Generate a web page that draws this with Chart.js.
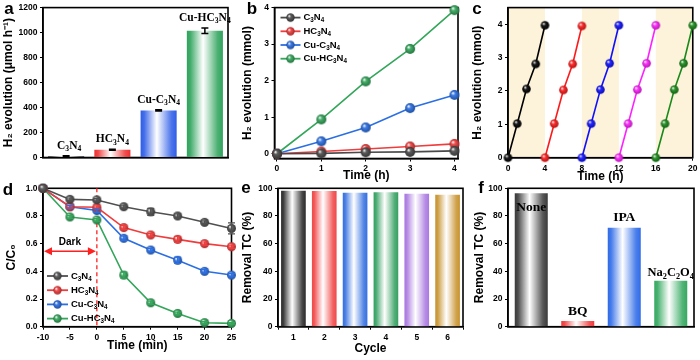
<!DOCTYPE html>
<html><head><meta charset="utf-8">
<script src="https://cdn.jsdelivr.net/npm/chart.js@4/dist/chart.umd.min.js"></script>
<style>
html,body{margin:0;padding:0;background:#fff;}
#wrap{position:relative;width:700px;height:360px;overflow:hidden;background:#fff;}
canvas{position:absolute;left:0;top:0;}
</style></head><body>
<div id="wrap">
<canvas id="ca" width="700" height="360"></canvas>
<canvas id="cb" width="700" height="360"></canvas>
<canvas id="cc" width="700" height="360"></canvas>
<canvas id="cd" width="700" height="360"></canvas>
<canvas id="ce" width="700" height="360"></canvas>
<canvas id="cf" width="700" height="360"></canvas>
</div>
<script>
// ---------------- data ----------------
const aCategories = ['C_3N_4', 'HC_3N_4', 'Cu-C_3N_4', 'Cu-HC_3N_4'];
const aRates = [12, 62, 377, 1015];
const aErrors = [3, 4, 5, 22];
const aTicksY = [0, 200, 400, 600, 800, 1000, 1200];

const bSeriesNames = ['C_3N_4', 'HC_3N_4', 'Cu-C_3N_4', 'Cu-HC_3N_4'];
const bTime = [0, 1, 2, 3, 4];
const bC3N4 = [0, 0.01, 0.04, 0.05, 0.08];
const bHC3N4 = [0, 0.06, 0.13, 0.20, 0.27];
const bCuC3N4 = [0, 0.34, 0.72, 1.25, 1.61];
const bCuHC3N4 = [0, 0.94, 1.98, 2.87, 3.93];
const bTicksX = [0, 1, 2, 3, 4];
const bTicksY = [0, 1, 2, 3, 4];

const cCycle1Time = [0, 1, 2, 3, 4];
const cCycle1 = [0, 1.02, 2.06, 2.81, 3.97];
const cCycle2Time = [4, 5, 6, 7, 8];
const cCycle2 = [0, 1.02, 2.03, 2.81, 3.95];
const cCycle3Time = [8, 9, 10, 11, 12];
const cCycle3 = [0, 1.02, 2.04, 2.83, 3.97];
const cCycle4Time = [12, 13, 14, 15, 16];
const cCycle4 = [0, 1.02, 2.04, 2.83, 3.97];
const cCycle5Time = [16, 17, 18, 19, 20];
const cCycle5 = [0, 1.02, 2.04, 2.83, 3.97];
const cLightPeriods = [[0, 4], [8, 12], [16, 20]];
const cTicksX = [0, 4, 8, 12, 16, 20];
const cTicksY = [0, 1, 2, 3, 4];

const dSeriesNames = ['C_3N_4', 'HC_3N_4', 'Cu-C_3N_4', 'Cu-HC_3N_4'];
const dTime = [-10, -5, 0, 5, 10, 15, 20, 25];
const dC3N4 = [1.0, 0.92, 0.916, 0.867, 0.83, 0.80, 0.754, 0.71];
const dC3N4Err = [0, 0.01, 0.01, 0.012, 0.025, 0.015, 0.01, 0.04];
const dHC3N4 = [1.0, 0.867, 0.863, 0.716, 0.663, 0.631, 0.60, 0.578];
const dHC3N4Err = [0, 0.01, 0.01, 0.015, 0.012, 0.022, 0.012, 0.012];
const dCuC3N4 = [1.0, 0.867, 0.84, 0.639, 0.554, 0.48, 0.40, 0.373];
const dCuC3N4Err = [0, 0.01, 0.012, 0.015, 0.012, 0.022, 0.012, 0.012];
const dCuHC3N4 = [1.0, 0.793, 0.771, 0.373, 0.173, 0.096, 0.029, 0.024];
const dCuHC3N4Err = [0, 0.01, 0.01, 0.022, 0.012, 0.01, 0.008, 0.006];
const dDarkLevel = 0.545;
const dTicksX = [-10, -5, 0, 5, 10, 15, 20, 25];
const dTicksY = [0, 0.2, 0.4, 0.6, 0.8, 1.0];

const eCycles = ['1', '2', '3', '4', '5', '6'];
const eRemoval = [98.3, 98.0, 96.8, 97.1, 96.1, 95.4];
const eTicksY = [0, 20, 40, 60, 80, 100];

const fScavengers = ['None', 'BQ', 'IPA', 'Na_2C_2O_4'];
const fRemoval = [96.4, 4.1, 71.5, 33.2];
const fTicksY = [0, 20, 40, 60, 80, 100];

// ---------------- helpers ----------------
const SANS = '"Liberation Sans", Arial, Helvetica, sans-serif';
const SERIF = '"Liberation Serif", "Times New Roman", serif';
const TICKFONT = {family: SANS, size: 8.5, weight: 'bold'};
const TITLEFONT = {family: SANS, size: 12, weight: 'bold'};

function hexRgb(h) { h = h.replace('#', ''); return [parseInt(h.substr(0,2),16), parseInt(h.substr(2,2),16), parseInt(h.substr(4,2),16)]; }
function mix(h, f) { // f>0 toward white, f<0 toward black
  const c = hexRgb(h).map(v => f >= 0 ? Math.round(v + (255 - v) * f) : Math.round(v * (1 + f)));
  return `rgb(${c[0]},${c[1]},${c[2]})`;
}
function richParts(s) {
  const parts = [];
  for (let i = 0; i < s.length; i++) {
    const ch = s[i];
    if ((ch === '_' || ch === '^') && i + 1 < s.length) { parts.push({t: s[i + 1], k: ch}); i++; }
    else if (parts.length && parts[parts.length - 1].k === 'n') parts[parts.length - 1].t += ch;
    else parts.push({t: ch, k: 'n'});
  }
  return parts;
}
function drawRich(ctx, s, x, y, size, family, weight, color, align) {
  const parts = richParts(s); const ss = size * 0.66;
  ctx.save(); ctx.fillStyle = color; ctx.textBaseline = 'middle'; ctx.textAlign = 'left';
  let total = 0;
  const ws = parts.map(p => { ctx.font = `${weight} ${p.k === 'n' ? size : ss}px ${family}`; const w = ctx.measureText(p.t).width; total += w; return w; });
  let cx = align === 'center' ? x - total / 2 : align === 'right' ? x - total : x;
  parts.forEach((p, i) => {
    ctx.font = `${weight} ${p.k === 'n' ? size : ss}px ${family}`;
    const dy = p.k === '_' ? size * 0.3 : p.k === '^' ? -size * 0.32 : 0;
    ctx.fillText(p.t, cx, y + dy); cx += ws[i];
  });
  ctx.restore();
}
function sphere(color, r) {
  const s = Math.ceil(r * 2) + 2; const c = document.createElement('canvas'); c.width = s; c.height = s;
  const g = c.getContext('2d'); const m = s / 2;
  const grad = g.createRadialGradient(m - r * 0.35, m - r * 0.4, r * 0.05, m, m, r);
  grad.addColorStop(0, '#ffffff'); grad.addColorStop(0.35, mix(color, 0.1)); grad.addColorStop(1, mix(color, -0.3));
  g.fillStyle = grad; g.beginPath(); g.arc(m, m, r, 0, Math.PI * 2); g.fill();
  return c;
}
function barGradient(colors, pct) {
  return (ctx) => {
    const ch = ctx.chart, ca = ch.chartArea, base = colors[ctx.dataIndex % colors.length];
    const xs = ch.scales && ch.scales.x;
    if (!ca || !xs || ca.right === undefined) return base;
    const n = ch.data.labels.length; const cw = (ca.right - ca.left) / n;
    const cx = xs.getPixelForValue(ctx.dataIndex); const w = cw * pct;
    if (!isFinite(cx)) return base;
    const g = ch.ctx.createLinearGradient(cx - w / 2, 0, cx + w / 2, 0);
    g.addColorStop(0, base); g.addColorStop(0.1, mix(base, 0.1)); g.addColorStop(0.45, '#ffffff');
    g.addColorStop(0.85, mix(base, 0.15)); g.addColorStop(1, base);
    return g;
  };
}
function linAxis(min, max, ticks, fmt) {
  return {type: 'linear', min, max,
    afterBuildTicks: s => { s.ticks = ticks.map(v => ({value: v})); },
    ticks: {font: TICKFONT, color: '#000', padding: 2.5, autoSkip: false, maxRotation: 0, minRotation: 0, callback: fmt || (v => String(v))},
    grid: {display: true, drawOnChartArea: false, drawTicks: true, tickLength: 3, color: '#000', lineWidth: 1},
    border: {display: true, color: '#000', width: 1.5}};
}
function catAxis(showTicks) {
  return {type: 'category', offset: true,
    ticks: {display: showTicks, font: TICKFONT, color: '#000', padding: 2.5, autoSkip: false, maxRotation: 0},
    grid: {display: showTicks, drawOnChartArea: false, drawTicks: true, tickLength: 3, color: '#000', lineWidth: 1},
    border: {display: true, color: '#000', width: 1.5}};
}
function withTitle(ax, text) { ax.title = {display: true, text, font: TITLEFONT, color: '#000', padding: 0}; return ax; }
function baseOptions(plot, yW, xH, xAxis, yAxis) {
  xAxis.afterFit = s => { s.height = xH; };
  yAxis.afterFit = s => { s.width = yW; };
  return {responsive: false, animation: false, events: [],
    layout: {padding: {left: plot[0] - yW, top: plot[1], right: 700 - plot[2], bottom: 360 - plot[3] - xH}},
    plugins: {legend: {display: false}, tooltip: {enabled: false}},
    scales: {x: xAxis, y: yAxis}};
}
function panelLetter(letter, x, y) {
  return {id: 'letter' + letter, afterDraw(chart) {
    const ctx = chart.ctx; ctx.save(); ctx.font = `bold 17px ${SANS}`; ctx.fillStyle = '#000';
    ctx.textAlign = 'center'; ctx.textBaseline = 'middle'; ctx.fillText(letter, x, y); ctx.restore(); }};
}
const frame = {id: 'frame', beforeDatasetsDraw(chart) {
  const {left, top, right, bottom} = chart.chartArea; const ctx = chart.ctx;
  ctx.save(); ctx.strokeStyle = '#000'; ctx.lineWidth = 1.6; ctx.strokeRect(left, top, right - left, bottom - top); ctx.restore(); }};
const errorBars = {id: 'errorBars', afterDatasetsDraw(chart) {
  const ctx = chart.ctx; const ys = chart.scales.y;
  chart.data.datasets.forEach((ds, di) => {
    if (!ds.errors) return;
    const meta = chart.getDatasetMeta(di);
    ctx.save(); ctx.strokeStyle = ds.errorColor || '#000'; ctx.lineWidth = ds.errorWidth || 1.2;
    meta.data.forEach((el, i) => {
      const e = ds.errors[i]; if (!e) return;
      const v = ds.data[i]; const val = (typeof v === 'object') ? v.y : v;
      const y1 = ys.getPixelForValue(val + e), y2 = ys.getPixelForValue(val - e); const x = el.x; const cap = ds.errorCap || 3;
      ctx.beginPath(); ctx.moveTo(x, y1); ctx.lineTo(x, y2);
      ctx.moveTo(x - cap, y1); ctx.lineTo(x + cap, y1); ctx.moveTo(x - cap, y2); ctx.lineTo(x + cap, y2); ctx.stroke();
    });
    ctx.restore();
  });
}};
function drawLegend(ctx, x0, y0, dy, len, names, colors, imgs, size) {
  names.forEach((n, i) => {
    const y = y0 + i * dy;
    ctx.save(); ctx.strokeStyle = colors[i]; ctx.lineWidth = 1.8;
    ctx.beginPath(); ctx.moveTo(x0, y); ctx.lineTo(x0 + len, y); ctx.stroke();
    const im = imgs[i]; ctx.drawImage(im, x0 + len / 2 - im.width / 2, y - im.height / 2); ctx.restore();
    drawRich(ctx, n, x0 + len + 3, y, size, SANS, 'bold', '#000', 'left');
  });
}
const pts = (xs, ys) => xs.map((x, i) => ({x, y: ys[i]}));
function lineDs(xs, ys, color, img, extra) {
  return Object.assign({data: pts(xs, ys), borderColor: color, borderWidth: 1.6, pointStyle: img, pointRadius: 4.5, clip: false, tension: 0}, extra || {});
}

// ---------------- panel a ----------------
const aColors = ['#4a4a4a', '#ee3030', '#2f5de8', '#2fa35c'];
new Chart(document.getElementById('ca'), {
  type: 'bar',
  data: {labels: aCategories, datasets: [{data: aRates, errors: aErrors, errorWidth: 1.5, errorCap: 3.5,
    backgroundColor: barGradient(aColors, 0.78), barPercentage: 0.78, categoryPercentage: 1}]},
  options: baseOptions([43, 6, 228, 157.5], 41.5, 3, catAxis(false),
    withTitle(linAxis(0, 1200, aTicksY), 'H\u2082 evolution (\u03bcmol h\u207b\u00b9)')),
  plugins: [frame, errorBars, panelLetter('a', 9, 9), {id: 'aLabels', afterDatasetsDraw(chart) {
    const meta = chart.getDatasetMeta(0); const ys = chart.scales.y;
    meta.data.forEach((el, i) => {
      const y = ys.getPixelForValue(aRates[i] + aErrors[i]) - 10;
      drawRich(chart.ctx, aCategories[i], el.x + (i === 0 ? 3 : 0), y, 11.5, SERIF, 'bold', '#000', 'center');
    });
  }}]
});

// ---------------- panel b ----------------
const bColors = ['#4a4a4a', '#f03c3c', '#2b6fe3', '#33a65a'];
const bImgs = bColors.map(c => sphere(c, 5));
const bImgsLeg = bColors.map(c => sphere(c, 4.2));
new Chart(document.getElementById('cb'), {
  type: 'line',
  data: {datasets: [
    lineDs(bTime, bC3N4, bColors[0], bImgs[0]),
    lineDs(bTime, bHC3N4, bColors[1], bImgs[1]),
    lineDs(bTime, bCuC3N4, bColors[2], bImgs[2]),
    lineDs(bTime, bCuHC3N4, bColors[3], bImgs[3])]},
  options: baseOptions([274.5, 5.5, 458, 158.5], 33.7, 24.2,
    withTitle(linAxis(-0.055, 4.08, bTicksX), 'Time (h)'),
    withTitle(linAxis(-0.13, 4.0, bTicksY), 'H\u2082 evolution (mmol)')),
  plugins: [frame, panelLetter('b', 252, 9), {id: 'bLegend', afterDraw(chart) {
    const ca = chart.chartArea;
    drawLegend(chart.ctx, ca.left + 6, ca.top + 10, 13.7, 20, bSeriesNames, bColors, bImgsLeg, 9.5);
  }}]
});

// ---------------- panel c ----------------
const cColors = ['#000000', '#ff1a1a', '#1010ff', '#ff20ff', '#1a8a1a'];
const cImgs = cColors.map(c => sphere(c, 4.3));
new Chart(document.getElementById('cc'), {
  type: 'line',
  data: {datasets: [
    lineDs(cCycle1Time, cCycle1, cColors[0], cImgs[0]),
    lineDs(cCycle2Time, cCycle2, cColors[1], cImgs[1]),
    lineDs(cCycle3Time, cCycle3, cColors[2], cImgs[2]),
    lineDs(cCycle4Time, cCycle4, cColors[3], cImgs[3]),
    lineDs(cCycle5Time, cCycle5, cColors[4], cImgs[4])]},
  options: baseOptions([508, 5.7, 693, 157.7], 37.2, 26,
    withTitle(linAxis(0, 20, cTicksX), 'Time (h)'),
    withTitle(linAxis(0, 4.5, cTicksY), 'H\u2082 evolution (mmol)')),
  plugins: [{id: 'cBands', beforeDraw(chart) {
    const ca = chart.chartArea, xs = chart.scales.x, ctx = chart.ctx;
    ctx.save(); ctx.fillStyle = '#fdf3da';
    cLightPeriods.forEach(([a, b]) => { const x1 = xs.getPixelForValue(a), x2 = xs.getPixelForValue(b); ctx.fillRect(x1, ca.top, x2 - x1, ca.bottom - ca.top); });
    ctx.restore();
  }}, frame, panelLetter('c', 477, 9)]
});

// ---------------- panel d ----------------
const dColors = ['#505050', '#f03c3c', '#2b6fe3', '#33a65a'];
const dImgs = dColors.map(c => sphere(c, 4.5));
const dImgsLeg = dColors.map(c => sphere(c, 4.2));
const dErrOpts = c => ({errorColor: c, errorWidth: 1.2, errorCap: 3.5});
new Chart(document.getElementById('cd'), {
  type: 'line',
  data: {datasets: [
    lineDs(dTime, dC3N4, dColors[0], dImgs[0], Object.assign({errors: dC3N4Err}, dErrOpts(dColors[0]))),
    lineDs(dTime, dHC3N4, dColors[1], dImgs[1], Object.assign({errors: dHC3N4Err}, dErrOpts(dColors[1]))),
    lineDs(dTime, dCuC3N4, dColors[2], dImgs[2], Object.assign({errors: dCuC3N4Err}, dErrOpts(dColors[2]))),
    lineDs(dTime, dCuHC3N4, dColors[3], dImgs[3], Object.assign({errors: dCuHC3N4Err}, dErrOpts(dColors[3])))]},
  options: baseOptions([43, 188.3, 231.5, 326.7], 38.2, 26.5,
    withTitle(linAxis(-10, 25, dTicksX), 'Time (min)'),
    withTitle(linAxis(0, 1.0, dTicksY, v => v.toFixed(1)), 'C/C\u2080')),
  plugins: [frame, errorBars, panelLetter('d', 8, 190), {id: 'dDark', beforeDatasetsDraw(chart) {
    const ca = chart.chartArea, xs = chart.scales.x, ys = chart.scales.y, ctx = chart.ctx;
    const x0 = xs.getPixelForValue(0), xl = xs.getPixelForValue(-10), y = ys.getPixelForValue(dDarkLevel);
    ctx.save();
    ctx.strokeStyle = '#ff2020'; ctx.lineWidth = 1.3; ctx.setLineDash([4, 3]);
    ctx.beginPath(); ctx.moveTo(x0, ca.top); ctx.lineTo(x0, ca.bottom); ctx.stroke();
    ctx.setLineDash([]); ctx.lineWidth = 1.6;
    ctx.beginPath(); ctx.moveTo(xl + 6, y); ctx.lineTo(x0 - 6, y); ctx.stroke();
    ctx.fillStyle = '#ff2020';
    ctx.beginPath(); ctx.moveTo(xl + 1, y); ctx.lineTo(xl + 9, y - 4); ctx.lineTo(xl + 9, y + 4); ctx.closePath(); ctx.fill();
    ctx.beginPath(); ctx.moveTo(x0 - 1, y); ctx.lineTo(x0 - 9, y - 4); ctx.lineTo(x0 - 9, y + 4); ctx.closePath(); ctx.fill();
    ctx.restore();
    drawRich(ctx, 'Dark', (x0 + xl) / 2, y - 9, 10, SANS, 'bold', '#000', 'center');
  }, afterDraw(chart) {
    drawLegend(chart.ctx, chart.chartArea.left + 4, 276, 14.2, 21, dSeriesNames, dColors, dImgsLeg, 9.5);
  }}]
});

// ---------------- panel e ----------------
const eColors = ['#2a2a2a', '#f04848', '#3570e0', '#35a060', '#a978e0', '#c8932e'];
new Chart(document.getElementById('ce'), {
  type: 'bar',
  data: {labels: eCycles, datasets: [{data: eRemoval, backgroundColor: barGradient(eColors, 0.8), barPercentage: 0.8, categoryPercentage: 1}]},
  options: baseOptions([278, 188.3, 463, 326.7], 37.2, 29.5,
    withTitle(catAxis(true), 'Cycle'),
    withTitle(linAxis(0, 100, eTicksY), 'Removal TC (%)')),
  plugins: [frame, panelLetter('e', 246, 188)]
});

// ---------------- panel f ----------------
const fColors = ['#3a3a3a', '#f03a3a', '#2f6be8', '#35a860'];
new Chart(document.getElementById('cf'), {
  type: 'bar',
  data: {labels: fScavengers, datasets: [{data: fRemoval, backgroundColor: barGradient(fColors, 0.71), barPercentage: 0.71, categoryPercentage: 1}]},
  options: baseOptions([508, 188.3, 694, 326.7], 35.2, 3, catAxis(false),
    withTitle(linAxis(0, 100, fTicksY), 'Removal TC (%)')),
  plugins: [frame, panelLetter('f', 481, 188), {id: 'fLabels', afterDatasetsDraw(chart) {
    const meta = chart.getDatasetMeta(0), ys = chart.scales.y;
    meta.data.forEach((el, i) => {
      const top = ys.getPixelForValue(fRemoval[i]);
      const inside = fRemoval[i] > 90;
      const isLong = fScavengers[i].length > 5;
      const y = inside ? top + 14 : top - (isLong ? 8 : 10);
      drawRich(chart.ctx, fScavengers[i], el.x, y, isLong ? 12.5 : 13.5, SERIF, 'bold', '#000', 'center');
    });
  }}]
});
</script>
</body></html>
